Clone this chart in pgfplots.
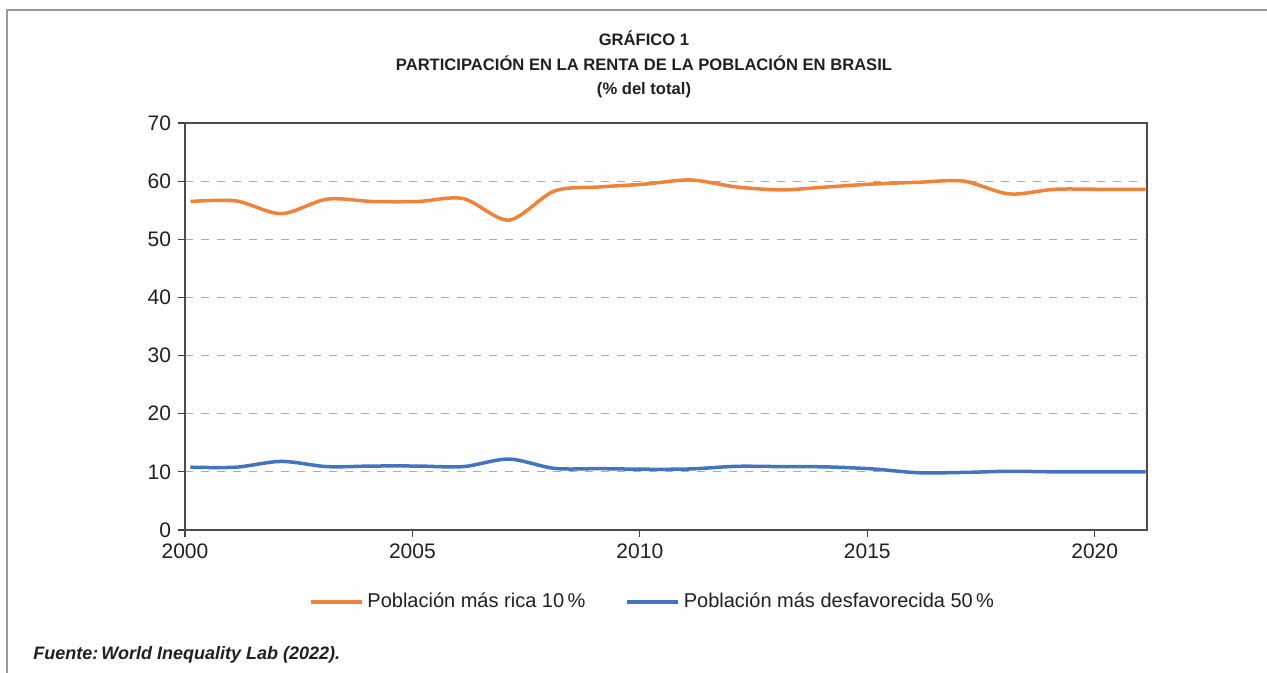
\documentclass[border=0pt]{standalone}
\usepackage{pgfplots}
\pgfplotsset{compat=1.18}
\usepackage{pgfplotstable}
\usepackage{fontspec}
\setmainfont{Liberation Sans}
\definecolor{rich}{HTML}{F0823A}
\definecolor{poor}{HTML}{4374C0}
\definecolor{txt}{HTML}{231F20}
\definecolor{gridc}{HTML}{ABABAB}
\pgfplotstableread{
year top bottom
2000 56.5 10.8
2001 56.6 10.8
2002 54.4 11.8
2003 56.9 10.9
2004 56.5 11.0
2005 56.5 11.0
2006 57.0 10.9
2007 53.3 12.2
2008 58.3 10.6
2009 59.0 10.55
2010 59.5 10.45
2011 60.2 10.5
2012 59.0 10.95
2013 58.5 10.9
2014 59.0 10.85
2015 59.5 10.5
2016 59.8 9.85
2017 60.0 9.9
2018 57.8 10.1
2019 58.6 10.0
2020 58.6 10.0
2021 58.6 10.0
}\data
\begin{document}
\begin{tikzpicture}
\path[use as bounding box] (0pt,0pt) rectangle (633.5pt,336.5pt);
\draw[black!40, line width=0.7pt] (3.5pt,0pt) -- (3.5pt,331.5pt) -- (633.5pt,331.5pt);
\node[font=\bfseries\fontsize{8.3}{10}\selectfont, text=txt] at (322pt,317.5pt) {GRÁFICO 1};
\node[font=\bfseries\fontsize{8.3}{10}\selectfont, text=txt] at (322pt,305pt) {PARTICIPACIÓN EN LA RENTA DE LA POBLACIÓN EN BRASIL};
\node[font=\bfseries\fontsize{8.3}{10}\selectfont, text=txt] at (322pt,291.5pt) {(\% del total)};
\node[font=\bfseries\itshape\fontsize{9}{11}\selectfont, text=txt, anchor=west, inner sep=0pt] at (16.5pt,9pt) {Fuente:\,World Inequality Lab (2022).};
\begin{axis}[
  at={(92.5pt,71.5pt)}, anchor=south west,
  scale only axis, width=481pt, height=203.5pt,
  xmin=2000, xmax=2021.15, ymin=0, ymax=70,
  xtick={2000,2005,2010,2015,2020},
  ytick={0,10,20,30,40,50,60,70},
  tick align=outside, tick pos=left,
  major tick length=3.5pt,
  tick style={black!75, line width=0.6pt},
  axis line style={black!70, line width=0.65pt},
  ymajorgrids,
  grid style={gridc, line width=0.55pt, dash pattern=on 4pt off 4pt},
  tick label style={font=\fontsize{10.5}{12}\selectfont, text=txt},
  /pgf/number format/assume math mode=true,
  /pgf/number format/1000 sep={},
  legend style={at={(0.487,-0.177)}, anchor=center, draw=none, fill=none,
    font=\fontsize{10}{12}\selectfont, text=txt,
    /tikz/every even column/.append style={column sep=18pt}},
  legend columns=2,
  legend image code/.code={\draw[#1] (0pt,0pt) -- (25.5pt,0pt);},
]
\addplot[rich, line width=1.75pt, smooth] table[x expr=\thisrow{year}+0.12, y=top] {\data};
\addlegendentry{Población más rica 10\,\%}
\addplot[poor, line width=1.75pt, smooth] table[x expr=\thisrow{year}+0.12, y=bottom] {\data};
\addlegendentry{Población más desfavorecida 50\,\%}
\end{axis}
\end{tikzpicture}
\end{document}
